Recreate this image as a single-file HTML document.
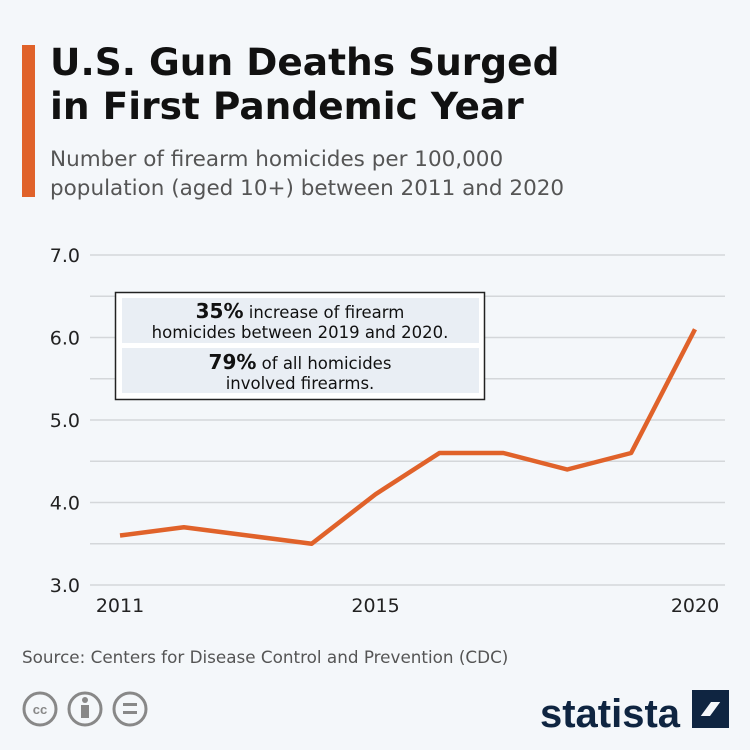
<!DOCTYPE html>
<html><head><meta charset="utf-8"><style>
body{margin:0;width:750px;height:750px;background:#f4f7fa;font-family:"DejaVu Sans","Liberation Sans",sans-serif;position:relative;overflow:hidden}
.bar{position:absolute;left:22px;top:45px;width:13px;height:152px;background:#e0622a}
h1{position:absolute;left:50px;top:40px;margin:0;font-size:37.5px;line-height:44px;font-weight:bold;color:#111}
.sub{position:absolute;left:50px;top:145px;font-size:21.5px;line-height:29px;color:#555;white-space:nowrap}
.src{position:absolute;left:22px;top:647px;font-size:16.8px;color:#555;white-space:nowrap}
</style></head><body>
<div class="bar"></div>
<h1>U.S. Gun Deaths Surged<br>in First Pandemic Year</h1>
<div class="sub">Number of firearm homicides per 100,000<br>population (aged 10+) between 2011 and 2020</div>
<svg id="chart" width="750" height="750" style="position:absolute;left:0;top:0"></svg>
<div class="src">Source: Centers for Disease Control and Prevention (CDC)</div>
<svg width="750" height="750" style="position:absolute;left:0;top:0;pointer-events:none">
<g fill="none" stroke="#888" stroke-width="3">
<circle cx="40" cy="709" r="16"/><circle cx="85" cy="709" r="16"/><circle cx="130" cy="709" r="16"/>
</g>
<text x="40" y="714" font-size="13" font-weight="bold" fill="#888" text-anchor="middle" font-family="Liberation Sans">cc</text>
<circle cx="85" cy="700" r="3" fill="#888"/><rect x="81" y="705" width="8" height="13" fill="#888"/>
<rect x="123" y="703" width="14" height="3" fill="#888"/><rect x="123" y="711" width="14" height="3" fill="#888"/>
<text x="540" y="727" font-size="40" font-weight="bold" fill="#0f2541" font-family="Liberation Sans" textLength="140" lengthAdjust="spacingAndGlyphs">statista</text>
<path d="M692 690h37v12h-18l-19 26v-38zM729 728h-37v-12h18l19-26z" fill="#0f2541"/>
</svg>
<script>
const years=[2011,2012,2013,2014,2015,2016,2017,2018,2019,2020];
const values=[3.6,3.7,3.6,3.5,4.1,4.6,4.6,4.4,4.6,6.1];
const yTicks=[3,4,5,6,7];
const xTicks=[2011,2015,2020];
const svg=document.getElementById('chart');
const NS='http://www.w3.org/2000/svg';
const x=v=>120+(v-2011)*(695-120)/9;
const y=v=>585-(v-3)*82.5;
function mk(t,a){const e=document.createElementNS(NS,t);for(const k in a)e.setAttribute(k,a[k]);svg.appendChild(e);return e;}
for(let v=3;v<=7;v+=0.5){
 const l=mk('line',{x1:90,x2:725,y1:y(v),y2:y(v),stroke:'#d4d7da','stroke-width':1.5});
 
 
}
yTicks.forEach(v=>{const t=mk('text',{x:80,y:y(v)+7,'text-anchor':'end','font-size':19,fill:'#222'});t.textContent=v.toFixed(1);
 
 });
xTicks.forEach(v=>{const t=mk('text',{x:x(v),y:612,'text-anchor':'middle','font-size':19,fill:'#222'});t.textContent=v;
 
 });
const p=mk('polyline',{points:years.map((yr,i)=>x(yr)+','+y(values[i])).join(' '),fill:'none',stroke:'#e0622a','stroke-width':4.5,'stroke-linejoin':'round'});


const b=mk('rect',{x:115.5,y:292.5,width:369,height:107,fill:'#fff',stroke:'#222','stroke-width':1.5});


mk('rect',{x:122,y:298,width:357,height:45,fill:'#e9eef4'});
mk('rect',{x:122,y:348,width:357,height:45,fill:'#e9eef4'});
const lines=[['35%',' increase of firearm',318],['','homicides between 2019 and 2020.',338],['79%',' of all homicides',369],['','involved firearms.',389]];
lines.forEach(([bo,r,yy])=>{const t=mk('text',{x:300,y:yy,'text-anchor':'middle','font-size':16.5,fill:'#111'});
 
 
 if(bo){const s=document.createElementNS(NS,'tspan');s.setAttribute('font-weight','bold');s.setAttribute('font-size','20');s.textContent=bo;t.appendChild(s);}
 const s2=document.createElementNS(NS,'tspan');s2.textContent=r;t.appendChild(s2);});
</script>
</body></html>
